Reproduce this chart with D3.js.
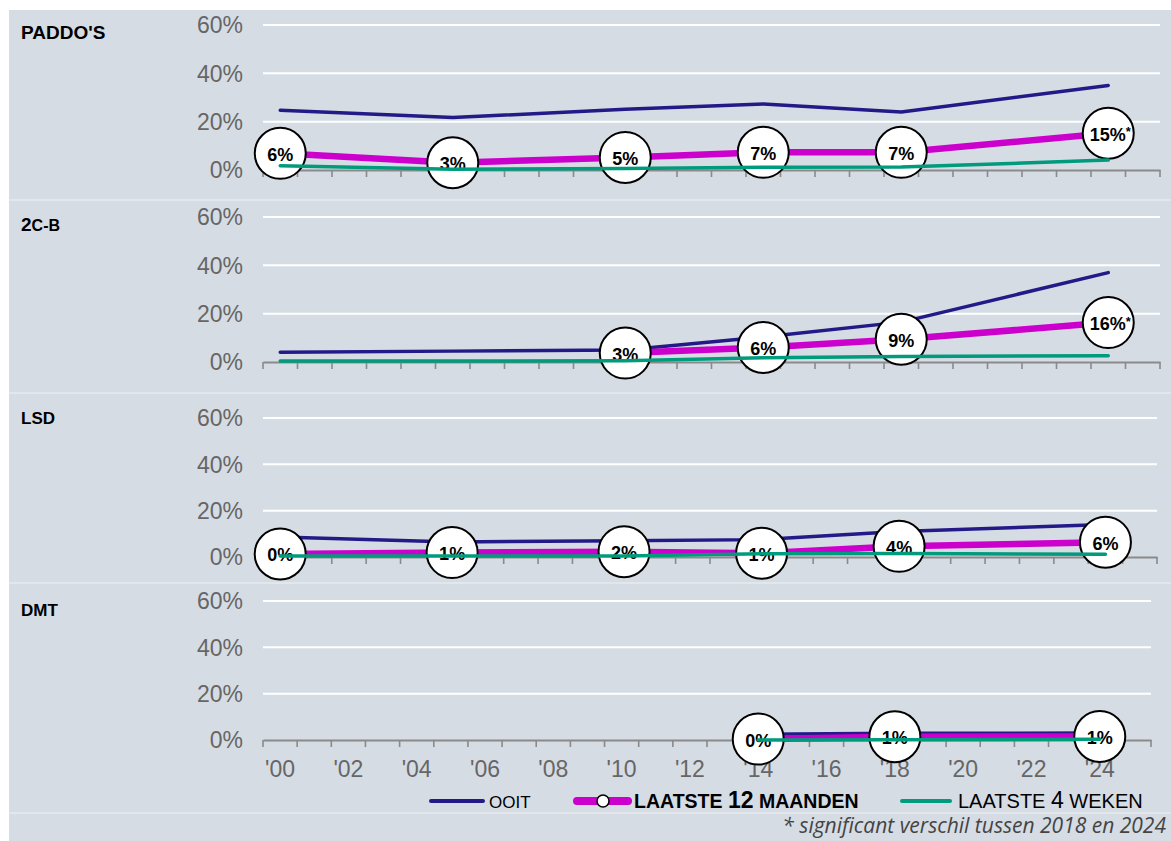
<!DOCTYPE html>
<html><head><meta charset="utf-8">
<script src="https://cdn.jsdelivr.net/npm/d3@7"></script>
<style>
html,body{margin:0;padding:0;background:#fff;}
svg{display:block;}
</style></head>
<body>
<svg id="chart" width="1171" height="841"></svg>
<script>
// ---- data ----
const years = [2000, 2005, 2010, 2014, 2018, 2024];
const axisYears = d3.range(2000, 2026);
const tickLabels = ["'00","'02","'04","'06","'08","'10","'12","'14","'16","'18","'20","'22","'24"];
const yTicks = [0, 20, 40, 60];
const drugs = ["PADDO'S", "2C-B", "LSD", "DMT"];

const ooitPaddos   = [24.7, 21.7, 25.1, 27.3, 24.0, 35.0];
const maandPaddos  = [6.9, 3.0, 5.2, 7.3, 7.3, 15.2];
const wekenPaddos  = [1.8, 0.3, 0.6, 1.1, 1.2, 4.1];
const labelsPaddos = ["6%", "3%", "5%", "7%", "7%", "15%*"];

const ooit2cb   = [4.0, 4.5, 5.0, 10.3, 16.5, 37.0];
const maand2cb  = [null, null, 3.7, 6.0, 9.4, 16.3];
const weken2cb  = [0.4, 0.4, 0.5, 1.8, 2.3, 2.6];
const labels2cb = [null, null, "3%", "6%", "9%", "16%*"];

const ooitLsd   = [8.6, 6.5, 7.0, 7.5, 11.0, 14.0];
const maandLsd  = [1.3, 1.9, 2.3, 1.6, 4.6, 6.4];
const wekenLsd  = [0.4, 0.4, 0.4, 1.4, 1.5, 1.2];
const labelsLsd = ["0%", "1%", "2%", "1%", "4%", "6%"];

const ooitDmt   = [null, null, null, 2.5, 2.9, 3.0];
const maandDmt  = [null, null, null, 0.4, 1.4, 1.5];
const wekenDmt  = [null, null, null, 0.0, 0.1, 0.3];
const labelsDmt = [null, null, null, "0%", "1%", "1%"];

const legendItems = ["OOIT", "LAATSTE 12 MAANDEN", "LAATSTE 4 WEKEN"];
const footnote = "* significant verschil tussen 2018 en 2024";

// ---- layout ----
const C_NAVY = "#241a87", C_MAG = "#cc00cc", C_GREEN = "#009a7c";
const BG = "#d6dce4";
const panels = [
  {name: drugs[0], ooit: ooitPaddos, maand: maandPaddos, weken: wekenPaddos, labels: labelsPaddos,
   top: 10, bottom: 200, y60: 25, y0: 170, xEnd: 1160, labelY: 39},
  {name: drugs[1], ooit: ooit2cb, maand: maand2cb, weken: weken2cb, labels: labels2cb,
   top: 200, bottom: 393, y60: 217, y0: 362, xEnd: 1160, labelY: 231},
  {name: drugs[2], ooit: ooitLsd, maand: maandLsd, weken: wekenLsd, labels: labelsLsd,
   top: 393, bottom: 583, y60: 418, y0: 557, xEnd: 1157, labelY: 424},
  {name: drugs[3], ooit: ooitDmt, maand: maandDmt, weken: wekenDmt, labels: labelsDmt,
   top: 583, bottom: 813, y60: 601, y0: 740, xEnd: 1151, labelY: 616}
];

const svg = d3.select("#chart");
svg.append("rect").attr("x", 9).attr("y", 10).attr("width", 1162).attr("height", 831).attr("fill", BG);

const FONT = "'Liberation Sans', Arial, sans-serif";

panels.forEach((p, pi) => {
  const g = svg.append("g");
  if (pi > 0) {
    g.append("line").attr("x1", 9).attr("x2", 1171).attr("y1", p.top).attr("y2", p.top)
      .attr("stroke", "#e3e7ec").attr("stroke-width", 2);
  }
  const x = d3.scaleBand().domain(axisYears).range([263, p.xEnd]).padding(0);
  const xc = yr => x(yr) + x.bandwidth() / 2;
  const y = d3.scaleLinear().domain([0, 60]).range([p.y0, p.y60]);

  // gridlines
  g.selectAll(".grid").data(yTicks.filter(t => t > 0)).join("line")
    .attr("x1", 263).attr("x2", p.xEnd)
    .attr("y1", d => y(d)).attr("y2", d => y(d))
    .attr("stroke", "#ffffff").attr("stroke-width", 2);

  // y tick labels
  g.selectAll(".ylab").data(yTicks).join("text")
    .attr("x", 243).attr("y", d => y(d)).attr("dy", "0.36em")
    .attr("text-anchor", "end").attr("font-family", FONT).attr("font-size", 23)
    .attr("fill", "#666666").text(d => d + "%");

  // x axis
  const ax = g.append("g").attr("transform", `translate(0,${p.y0})`)
    .call(d3.axisBottom(x).tickValues([]).tickSizeOuter(0));
  ax.select(".domain").attr("stroke", "#8a8a8a").attr("stroke-width", 2);
  const bounds = axisYears.map(yr => x(yr)).concat([p.xEnd]);
  g.selectAll(".tk").data(bounds).join("line")
    .attr("x1", d => d).attr("x2", d => d).attr("y1", p.y0).attr("y2", p.y0 + 7)
    .attr("stroke", "#8a8a8a").attr("stroke-width", 1.6);

  if (pi === 3) {
    g.selectAll(".xlab").data(axisYears.filter(yr => yr % 2 === 0)).join("text")
      .attr("x", d => xc(d)).attr("y", 777)
      .attr("text-anchor", "middle").attr("font-family", FONT).attr("font-size", 23)
      .attr("fill", "#666666").text((d, i) => tickLabels[i]);
  }

  // panel label
  const lab = g.append("text").attr("x", 21).attr("y", p.labelY)
    .attr("font-family", FONT).attr("font-weight", "bold").attr("fill", "#000");
  if (p.name === "2C-B") {
    lab.append("tspan").attr("font-size", 19).text("2");
    lab.append("tspan").attr("font-size", 16).text("C-B");
  } else if (p.name === "PADDO'S") {
    lab.attr("font-size", 19).text(p.name);
  } else {
    lab.attr("font-size", 17).text(p.name);
  }

  const mk = arr => years.map((yr, i) => ({yr, v: arr[i]})).filter(d => d.v !== null);
  const line = d3.line().x(d => xc(d.yr)).y(d => y(d.v));

  g.append("path").datum(mk(p.ooit)).attr("d", line).attr("fill", "none")
    .attr("stroke", C_NAVY).attr("stroke-width", 3.5).attr("stroke-linecap", "round").attr("stroke-linejoin", "round");
  g.append("path").datum(mk(p.maand)).attr("d", line).attr("fill", "none")
    .attr("stroke", C_MAG).attr("stroke-width", 6.5).attr("stroke-linejoin", "round");

  const circ = years.map((yr, i) => ({yr, v: p.maand[i], l: p.labels[i]})).filter(d => d.v !== null);
  const cg = g.selectAll(".cg").data(circ).join("g")
    .attr("transform", d => `translate(${xc(d.yr)},${y(d.v)})`);
  cg.append("circle").attr("r", 25.5).attr("fill", "#fff").attr("stroke", "#000").attr("stroke-width", 2);
  cg.each(function(d) {
    const t = d3.select(this).append("text").attr("text-anchor", "middle").attr("y", 1).attr("dy", "0.36em")
      .attr("font-family", FONT).attr("font-weight", "bold").attr("font-size", 18).attr("fill", "#000");
    if (d.l.endsWith("*")) {
      t.attr("x", 2);
      t.append("tspan").text(d.l.slice(0, -1));
      t.append("tspan").attr("font-size", 13).attr("dy", "-0.35em").text("*");
    } else {
      t.text(d.l);
    }
  });

  g.append("path").datum(mk(p.weken)).attr("d", line).attr("fill", "none")
    .attr("stroke", C_GREEN).attr("stroke-width", 3.5).attr("stroke-linecap", "round").attr("stroke-linejoin", "round");
});

// bottom separator
svg.append("line").attr("x1", 9).attr("x2", 1171).attr("y1", 813).attr("y2", 813)
  .attr("stroke", "#e3e7ec").attr("stroke-width", 2);

// legend
const lg = svg.append("g");
const LY = 801;
lg.append("line").attr("x1", 431).attr("x2", 483).attr("y1", LY).attr("y2", LY)
  .attr("stroke", C_NAVY).attr("stroke-width", 4).attr("stroke-linecap", "round");
lg.append("text").attr("x", 489).attr("y", LY + 7).attr("font-family", FONT).attr("font-size", 17)
  .attr("fill", "#000").text(legendItems[0]);

lg.append("line").attr("x1", 577).attr("x2", 628).attr("y1", LY).attr("y2", LY)
  .attr("stroke", C_MAG).attr("stroke-width", 8).attr("stroke-linecap", "round");
lg.append("circle").attr("cx", 603).attr("cy", LY).attr("r", 6).attr("fill", "#fff")
  .attr("stroke", "#000").attr("stroke-width", 1.5);
const t2 = lg.append("text").attr("x", 634).attr("y", LY + 7).attr("font-family", FONT)
  .attr("font-weight", "bold").attr("fill", "#000");
t2.append("tspan").attr("font-size", 19.5).text("LAATSTE ");
t2.append("tspan").attr("font-size", 23).text("12");
t2.append("tspan").attr("font-size", 19.5).text(" MAANDEN");

lg.append("line").attr("x1", 902).attr("x2", 950).attr("y1", LY).attr("y2", LY)
  .attr("stroke", C_GREEN).attr("stroke-width", 4).attr("stroke-linecap", "round");
const t3 = lg.append("text").attr("x", 958).attr("y", LY + 7).attr("font-family", FONT)
  .attr("fill", "#000");
t3.append("tspan").attr("font-size", 20).text("LAATSTE ");
t3.append("tspan").attr("font-size", 23).text("4");
t3.append("tspan").attr("font-size", 20).text(" WEKEN");

// footnote
svg.append("text").attr("x", 1166).attr("y", 833).attr("text-anchor", "end")
  .attr("font-family", "'Open Sans', sans-serif").attr("font-style", "italic").attr("font-size", 21)
  .attr("fill", "#444").text(footnote);
</script>
</body></html>
